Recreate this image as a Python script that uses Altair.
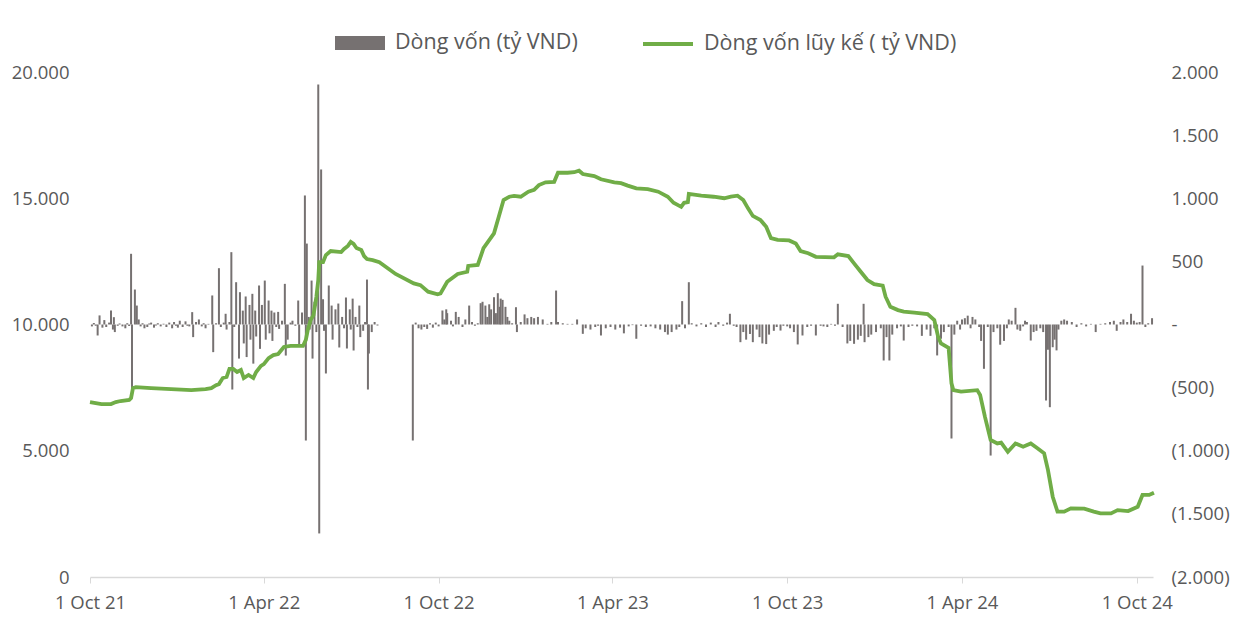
import altair as alt
import pandas as pd

start_date = "2021-10-01"
bar_label = "Dòng vốn (tỷ VND)"
line_label = "Dòng vốn lũy kế ( tỷ VND)"

# Daily flows (right axis), day offsets from 1 Oct 2021
bar_days = [
    2, 4, 6, 8, 10, 13, 15, 17, 20, 22, 24, 25, 26, 29, 31, 34, 37, 39, 41, 43, 44, 47, 49, 51, 53, 55, 57, 60,
    62, 64, 67, 69, 71, 74, 77, 80, 83, 86, 88, 90, 92, 94, 97, 100, 102, 104, 107, 108, 111, 114, 117, 119,
    121, 124, 128, 129, 132, 135, 137, 140, 142, 143, 146, 148, 149, 151, 153, 156, 157, 160, 161, 163, 164,
    167, 168, 170, 171, 173, 174, 177, 178, 180, 183, 184, 187, 188, 190, 191, 193, 195, 197, 198, 201, 204,
    205, 207, 210, 212, 215, 218, 219, 222,
    225, 226, 227, 229, 230, 232, 233, 235, 237, 239, 240, 242, 244, 245, 247, 250, 253, 254, 257, 260, 261,
    264, 266, 268, 269, 272, 273, 275, 276, 278, 280, 282, 283, 286, 288, 290, 291, 292, 295, 298, 301,
    338, 341, 344, 347, 350, 353, 356, 359, 362, 365, 369, 371, 373, 374, 378, 380, 383, 386, 390, 393, 397,
    400, 403, 406, 409, 411, 414, 416, 418, 420, 423, 425, 427, 429, 430, 432, 435, 437, 439, 442, 446, 447,
    451, 455, 458, 462, 465, 469, 474, 479, 483, 488, 490, 495, 500, 505, 510, 516, 519, 524, 529, 532, 535,
    540, 545, 550, 555, 559, 564, 568, 572, 577, 582, 587, 592, 597, 602, 605, 609, 614, 617, 620, 623, 627,
    630, 635, 640, 645, 650, 655, 658, 663, 667, 670, 674, 677, 681, 684, 687, 691, 694, 698, 701, 704, 708,
    711, 716, 719, 723, 726, 730, 733, 737, 741, 746, 751, 755, 760, 765, 768, 772, 776, 780, 783, 788, 793,
    796, 800, 804, 807, 810, 811, 815, 818, 823, 828, 831, 834, 837, 840, 845, 849, 852, 857, 861, 866, 871,
    876, 880, 884, 887, 891, 894, 899, 902, 905, 908, 911, 913, 916, 919, 922, 924, 927, 931, 933, 936, 940,
    943, 946, 950, 953, 957, 960, 962, 965, 969, 971, 974, 977, 979, 981, 985, 988, 991, 995, 998, 1001, 1003,
    1005, 1008, 1010, 1012, 1014, 1017, 1020, 1023, 1028, 1033, 1038, 1043, 1048, 1053, 1058, 1063, 1068,
    1072, 1075, 1079, 1082, 1086, 1090, 1093, 1096, 1099, 1102, 1105, 1108, 1112,
]
bar_values = [
    -15, 12, -10, -87, 72, -25, 35, -20, 15, 111, -40, 58, -60, -10, 8, -15, -30, 10, -12, 560, -507, 277, 150,
    40, -15, 10, -30, -20, 8, 15, -25, -8, 10, -15, 6, -20, 15, -30, 20, -10, -25, 30, -20, 25, -10, -15, 98,
    -100, 20, 40, -15, 10, -30, 5, 230, -219, 10, 446, -20, 15, 85, -40, 20, 573, -515, -20, 335, -270, 256,
    110, -150, 222, -258, 155, -120, 243, -310, 110, -95, 309, -193, 155, 348, -120, 190, -70, 110, -130, 95,
    -20, 100, -35, 30, 322, -246, -120, 15, 30, -10, 190, -170, 95,
    1022, -919, 641, 60, -40, 348, -270, 180, -60, 1901, -1655, 1228, 200, -50, -388, 309, 150, -120, 120,
    166, -182, 60, -30, 214, -190, 120, -40, 205, -206, 60, -20, 150, -100, -50, 20, 356, -515, -230, -60,
    20, -8,
    -919, 15, -30, -40, -20, -35, 10, -25, 15, -15, 111, 40, 120, 90, 30, -15, 100, 60, -20, 40, 150, 20, -10,
    10, 169, 180, 150, 60, 160, 120, 216, 90, 248, 140, 205, 195, 140, 60, 30, 10, 137, -60, 20, 80, 50, 60,
    50, 60, 40, 5, 20, 269, 20, 10, 5, 5, 40, -74, -30, -40, -20, -10, -87, -30, -20, -40, -25, -70, -15, -5,
    -113, -10, -20, -15, -30, -40, -60, -80, -60, -40, -20, 185, -30, 335, 10, -15, 10, -20, 15, -20, 20, -10,
    15, 85, -10, -20, -140, -60, -120, -75, -140, -40, -100, -150, -155, -80, -50, -20, -48, -10, -15, -30,
    -60, -158, -87, -20, -10, -87, -10, -15, -20, 5, -10, 164, -20, -150, -130, -153, -120, -90, 164, -140,
    -100, -80, -60, -30, -285, -100, -285, -80, -30, -15, -127, -20, -10, -15, -90, -40, -90, -30, -245, -113,
    -60, -20, -903, -80, 30, -40, 40, 50, 70, -30, 60, 40, -20, -130, -351, -20, -1038, -60, -30, -160, -130,
    -30, 40, 30, 132, -40, -50, -15, 30, 20, -127, -60, -50, -30, -60, -602, -200, -655, -180, -120, -205,
    -40, 30, 40, 30, 20, -20, 10, -15, 5, -60, 5, 10, 20, 30, -50, 20, 40, 20, 85, 30, 15, 20, 467, -20, 10,
    50,
]

# Cumulative flow (left axis)
line_days = [
    0, 6, 12, 22, 27, 32, 41, 43, 45, 48, 64, 85, 106, 121, 127, 132, 135, 139, 143, 146, 150, 154, 158, 161,
    166, 171, 174, 179, 182, 187, 192, 197, 203, 210, 223, 226, 228, 231, 234, 237, 239, 240, 244, 247, 252,
    263, 266, 270, 273, 276, 279, 284, 287, 290, 296, 303, 320, 339, 346, 354, 364, 367, 374, 385, 395, 396,
    406, 412, 423, 428, 433, 439, 444, 451, 459, 465, 470, 477, 486, 490, 500, 507, 512, 516, 528, 535, 549,
    556, 563, 572, 584, 595, 605, 611, 619, 622, 626, 627, 640, 653, 664, 671, 678, 684, 689, 694, 702, 708,
    713, 720, 732, 739, 744, 752, 760, 779, 783, 794, 800, 807, 814, 821, 830, 833, 838, 846, 852, 863, 877,
    884, 888, 891, 899, 902, 904, 912, 929, 932, 937, 943, 950, 954, 961, 969, 977, 985, 992, 999, 1003, 1008,
    1013, 1020, 1027, 1041, 1051, 1058, 1069, 1076, 1087, 1097, 1102, 1109, 1114,
]
line_values = [
    6930, 6890, 6850, 6850, 6930, 6970, 7010, 7090, 7480, 7520, 7480, 7440, 7400, 7440, 7480, 7600, 7640, 7880,
    7920, 8240, 8240, 8120, 8200, 7880, 8000, 7880, 8120, 8360, 8430, 8670, 8790, 8830, 9110, 9150, 9150, 9390,
    9780, 10180, 10370, 11090, 11760, 12470, 12470, 12750, 12910, 12870, 12990, 13110, 13270, 13190, 13030,
    12950, 12710, 12590, 12550, 12470, 12000, 11630, 11560, 11300, 11195, 11230, 11690, 12000, 12090, 12320,
    12360, 13020, 13610, 14270, 14930, 15060, 15090, 15060, 15260, 15330, 15520, 15630, 15650, 16010, 16010,
    16030, 16090, 15960, 15880, 15750, 15630, 15600, 15500, 15390, 15360, 15260, 15060, 14820, 14660, 14820,
    14850, 15170, 15100, 15060, 15000, 15060, 15100, 14930, 14600, 14300, 14140, 13870, 13420, 13350, 13330,
    13210, 12910, 12820, 12680, 12660, 12780, 12710, 12420, 12090, 11760, 11600, 11540, 11100, 10700, 10570,
    10510, 10470, 10410, 10180, 9520, 9250, 9070, 7670, 7400, 7340, 7400, 7210, 6350, 5430, 5290, 5320, 4960,
    5290, 5160, 5290, 5100, 4900, 4240, 3180, 2590, 2590, 2720, 2710, 2590, 2520, 2520, 2650, 2610, 2780, 3250,
    3250, 3340,
]

x_tick_dates = [(2021, 10), (2022, 4), (2022, 10), (2023, 4), (2023, 10), (2024, 4), (2024, 10)]
left_ticks = [0, 5000, 10000, 15000, 20000]
right_ticks = [-2000, -1500, -1000, -500, 0, 500, 1000, 1500, 2000]

start = pd.Timestamp(start_date)
bars = pd.DataFrame({
    "date": [(start + pd.Timedelta(days=d)).strftime("%Y-%m-%d") for d in bar_days],
    "value": bar_values,
    "series": bar_label,
})
line = pd.DataFrame({
    "date": [(start + pd.Timedelta(days=d)).strftime("%Y-%m-%d") for d in line_days],
    "value": line_values,
    "series": line_label,
})

GRAY = "#767171"
GREEN = "#70AD47"
TEXT = "#595959"
FONT = "Open Sans"
AXIS_FS = 18.5
LEGEND_FS = 21.5

x_enc = alt.X(
    "date:T",
    title=None,
    scale=alt.Scale(
        type="utc", padding=0,
        domain=[alt.DateTime(year=2021, month=10, date=1, utc=True),
                alt.DateTime(year=2024, month=10, date=18, utc=True)],
    ),
    axis=alt.Axis(
        values=[alt.DateTime(year=y, month=m, date=1, utc=True) for y, m in x_tick_dates],
        labelExpr="utcFormat(datum.value, '%-d %b %y')",
        labelFlush=False, labelOverlap=False, labelBound=False,
        grid=False, domainColor="#d9d9d9", domainWidth=1.5, tickColor="#d9d9d9",
        tickSize=6, labelFontSize=AXIS_FS, labelColor=TEXT, labelPadding=10,
    ),
)

bar_layer = alt.Chart(bars).mark_bar(size=2, color=GRAY).encode(
    x=x_enc,
    y=alt.Y(
        "value:Q", title=None, stack=None,
        scale=alt.Scale(domain=[-2000, 2000], nice=False, zero=False, padding=0),
        axis=alt.Axis(
            orient="right", values=right_ticks, grid=False, domain=False, ticks=False,
            labelFontSize=AXIS_FS, labelColor=TEXT, labelPadding=18,
            labelExpr="datum.value == 0 ? '-' : (datum.value < 0 ? '(' + replace(format(-datum.value, ','), ',', '.') + ')' : replace(format(datum.value, ','), ',', '.'))",
        ),
    ),
    color=alt.Color(
        "series:N",
        scale=alt.Scale(domain=[bar_label], range=[GRAY]),
        legend=alt.Legend(
            title=None, orient="none", legendX=244, legendY=-55,
            symbolType="M-1,-0.28L1,-0.28L1,0.28L-1,0.28Z",
            symbolSize=2500, labelFontSize=LEGEND_FS, labelColor=TEXT, labelOffset=9,
            labelLimit=500,
        ),
    ),
)

line_layer = alt.Chart(line).mark_line(strokeWidth=3.8, interpolate="linear").encode(
    x=x_enc,
    y=alt.Y(
        "value:Q", title=None,
        scale=alt.Scale(domain=[0, 20000], nice=False),
        axis=alt.Axis(
            orient="left", values=left_ticks, grid=False, domain=False, ticks=False,
            labelFontSize=AXIS_FS, labelColor=TEXT, labelPadding=21,
            labelExpr="replace(format(datum.value, ','), ',', '.')",
        ),
    ),
    stroke=alt.Stroke(
        "series:N",
        scale=alt.Scale(domain=[line_label], range=[GREEN]),
        legend=alt.Legend(
            title=None, orient="none", legendX=551, legendY=-55,
            symbolType="stroke", symbolSize=2500,
            symbolStrokeWidth=4, labelFontSize=LEGEND_FS, labelColor=TEXT, labelOffset=9,
            labelLimit=500,
        ),
    ),
)

chart = alt.layer(bar_layer, line_layer).resolve_scale(
    y="independent"
).properties(
    width=1063, height=505,
    padding={"left": 3, "top": 9, "right": 5, "bottom": 5},
).configure(
    font=FONT,
).configure_view(
    stroke=None,
)

chart.save("out.html", embed_options={"renderer": "svg", "actions": False})
